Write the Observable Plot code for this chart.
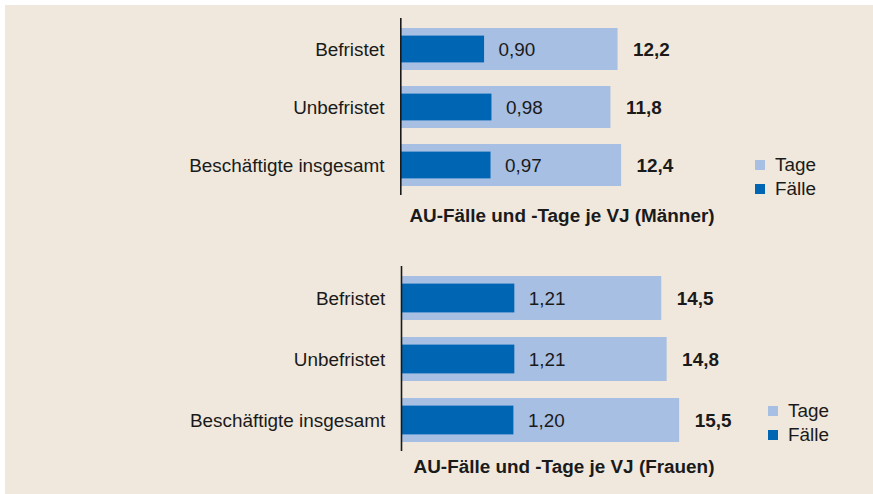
<!DOCTYPE html>
<html>
<head>
<meta charset="utf-8">
<script src="https://cdn.jsdelivr.net/npm/d3@7"></script>
<script src="https://cdn.jsdelivr.net/npm/@observablehq/plot@0.6"></script>
<style>
  html, body { margin: 0; padding: 0; background: #ffffff; }
  body { width: 873px; height: 494px; position: relative; overflow: hidden;
         font-family: "Liberation Sans", Arial, Helvetica, sans-serif; color: #1a1a1a; }
  #bg { position: absolute; left: 5px; top: 5px; right: 0; bottom: 0; background: #f0e8dc; }
  .panel { position: absolute; left: 0; }
  .title { position: absolute; font-weight: bold; font-size: 18.9px; white-space: nowrap;
           transform: translate(-50%, -50%); }
  .legend { position: absolute; font-size: 18.9px; }
  .legend .row { display: flex; align-items: center; height: 24.5px; }
  .legend .sw { width: 10px; height: 10px; margin-right: 10px; }
</style>
</head>
<body>
<div id="bg"></div>
<script>
const categories = ["Befristet", "Unbefristet", "Beschäftigte insgesamt"];
const maennerTage = [12.2, 11.8, 12.4];
const maennerFaelle = [0.90, 0.98, 0.97];
const frauenTage = [14.5, 14.8, 15.5];
const frauenFaelle = [1.21, 1.21, 1.20];
const seriesLabels = ["Tage", "Fälle"];
const panelTitles = ["AU-Fälle und -Tage je VJ (Männer)", "AU-Fälle und -Tage je VJ (Frauen)"];

const colorTage = "#a7bfe3";
const colorFaelle = "#0066b3";
const daysPerCase = 5.2; // secondary-axis ratio (Fälle axis relative to Tage axis)
const font = '"Liberation Sans", Arial, Helvetica, sans-serif';
const fs = 18.9;
const de = d3.formatLocale({decimal: ",", thousands: ".", grouping: [3], currency: ["", " €"]});
const fmt2 = de.format(".2f");
const fmt1 = de.format(".1f");

function panel({tage, faelle, title, top, x0, pxPerDay, titleX, titleY, legendX, legendY}) {
  const data = categories.map((c, i) => ({cat: c, tage: tage[i], faelle: faelle[i]}));
  const xMax = 25;
  const plot = Plot.plot({
    width: 873,
    height: top === 0 ? 200 : 208,
    marginLeft: x0,
    marginRight: 873 - (x0 + xMax * pxPerDay),
    marginTop: 18,
    marginBottom: 5,
    style: {background: "transparent", fontFamily: font, fontSize: fs + "px", color: "#1a1a1a", overflow: "visible"},
    x: {domain: [0, xMax], range: [x0, x0 + xMax * pxPerDay], axis: null},
    y: {domain: categories, paddingInner: 0.28, paddingOuter: 0.148, label: null},
    marks: [
      Plot.barX(data, {x: "tage", y: "cat", fill: colorTage}),
      Plot.barX(data, {x: d => d.faelle * daysPerCase, y: "cat", fill: colorFaelle, insetTop: 7.6, insetBottom: 7.6}),
      Plot.text(data, {x: d => d.faelle * daysPerCase, y: "cat", text: d => fmt2(d.faelle), textAnchor: "start", dx: 14, fontSize: fs, fill: "#1a1a1a"}),
      Plot.text(data, {x: "tage", y: "cat", text: d => fmt1(d.tage), textAnchor: "start", dx: 15, fontSize: fs, fontWeight: "bold", fill: "#1a1a1a"}),
      Plot.axisY({tickSize: 0, tickPadding: 17, fontSize: fs, label: null}),
      Plot.ruleX([0], {stroke: "#1a1a1a", strokeWidth: 1.6, dx: -0.7})
    ]
  });
  const wrap = document.createElement("div");
  wrap.className = "panel";
  wrap.style.top = top + "px";
  wrap.appendChild(plot);
  document.body.appendChild(wrap);

  const t = document.createElement("div");
  t.className = "title";
  t.style.left = titleX + "px";
  t.style.top = titleY + "px";
  t.textContent = title;
  document.body.appendChild(t);

  const lg = document.createElement("div");
  lg.className = "legend";
  lg.style.left = legendX + "px";
  lg.style.top = legendY + "px";
  [[seriesLabels[0], colorTage], [seriesLabels[1], colorFaelle]].forEach(([lab, col]) => {
    const r = document.createElement("div");
    r.className = "row";
    const s = document.createElement("div");
    s.className = "sw";
    s.style.background = col;
    const l = document.createElement("span");
    l.textContent = lab;
    r.appendChild(s); r.appendChild(l);
    lg.appendChild(r);
  });
  document.body.appendChild(lg);
}

panel({tage: maennerTage, faelle: maennerFaelle, title: panelTitles[0], top: 0, x0: 401, pxPerDay: 17.75,
       titleX: 562, titleY: 216, legendX: 755, legendY: 152.5});
panel({tage: frauenTage, faelle: frauenFaelle, title: panelTitles[1], top: 248, x0: 401.7, pxPerDay: 17.9,
       titleX: 564, titleY: 467, legendX: 768, legendY: 398.5});
</script>
</body>
</html>
